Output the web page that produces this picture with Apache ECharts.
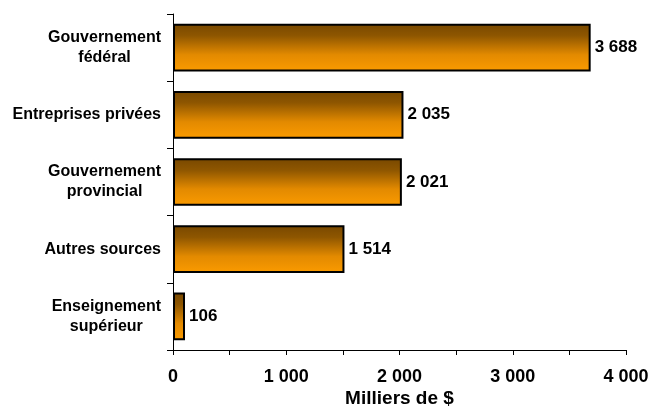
<!DOCTYPE html>
<html><head><meta charset="utf-8">
<script src="https://cdn.jsdelivr.net/npm/echarts@6/dist/echarts.min.js"></script>
<style>html,body{margin:0;padding:0;background:#fff}#c{width:651px;height:406px}</style>
</head><body><div id="c"></div>
<script>
const categories = ["Gouvernement\nfédéral", "Entreprises privées", "Gouvernement\nprovincial", "Autres sources", "Enseignement\nsupérieur"];
const values = [3688, 2035, 2021, 1514, 106];
const xTicks = [0, 1000, 2000, 3000, 4000];
const axisName = "Milliers de $";

function fmt(v){ return String(v).replace(/\B(?=(\d{3})+(?!\d))/g, ' '); }
const FF = 'Liberation Sans, Arial, sans-serif';

const chart = echarts.init(document.getElementById('c'), null, {renderer:'canvas'});
chart.setOption({
  animation:false,
  grid:{left:173, right:25, top:14, bottom:56, containLabel:false, outerBoundsMode:'none'},
  xAxis:{
    type:'value', min:0, max:4000, interval:500,
    axisLine:{show:true, lineStyle:{color:'#000', width:1}},
    axisTick:{show:true, length:5, lineStyle:{color:'#000'}},
    splitLine:{show:false},
    axisLabel:{
      color:'#000', fontWeight:'bold', fontSize:18, fontFamily:FF, margin:18,
      formatter:function(v){ return xTicks.indexOf(v) >= 0 ? fmt(v) : ''; }
    },
    name:axisName, nameLocation:'middle', nameGap:49, nameMoveOverlap:false,
    nameTextStyle:{color:'#000', fontWeight:'bold', fontSize:19, fontFamily:FF, verticalAlign:'middle'}
  },
  yAxis:{
    type:'category', data:categories, inverse:true,
    axisLine:{show:true, lineStyle:{color:'#000', width:1}},
    axisTick:{show:true, length:6, lineStyle:{color:'#000'}},
    axisLabel:{
      color:'#000', fontWeight:'bold', fontSize:16, fontFamily:FF, align:'right', margin:12,
      formatter:function(v){ return v.split('\n').map(function(s){return '{c|'+s+'}';}).join('\n'); },
      rich:{c:{align:'center', color:'#000', fontWeight:'bold', fontSize:16, fontFamily:FF, lineHeight:20}}
    }
  },
  series:[{
    type:'bar', data:values, barWidth:'71%',
    itemStyle:{
      borderColor:'#000', borderWidth:2,
      color:new echarts.graphic.LinearGradient(0,0,0,1,[
        {offset:0, color:'#784800'},
        {offset:0.25, color:'#8e5600'},
        {offset:0.65, color:'#e38a00'},
        {offset:1, color:'#fb9b00'}
      ])
    },
    label:{show:true, position:'right', distance:4, color:'#000', fontWeight:'bold', fontSize:17, fontFamily:FF, formatter:function(p){return fmt(p.value);}}
  }]
});
</script></body></html>
